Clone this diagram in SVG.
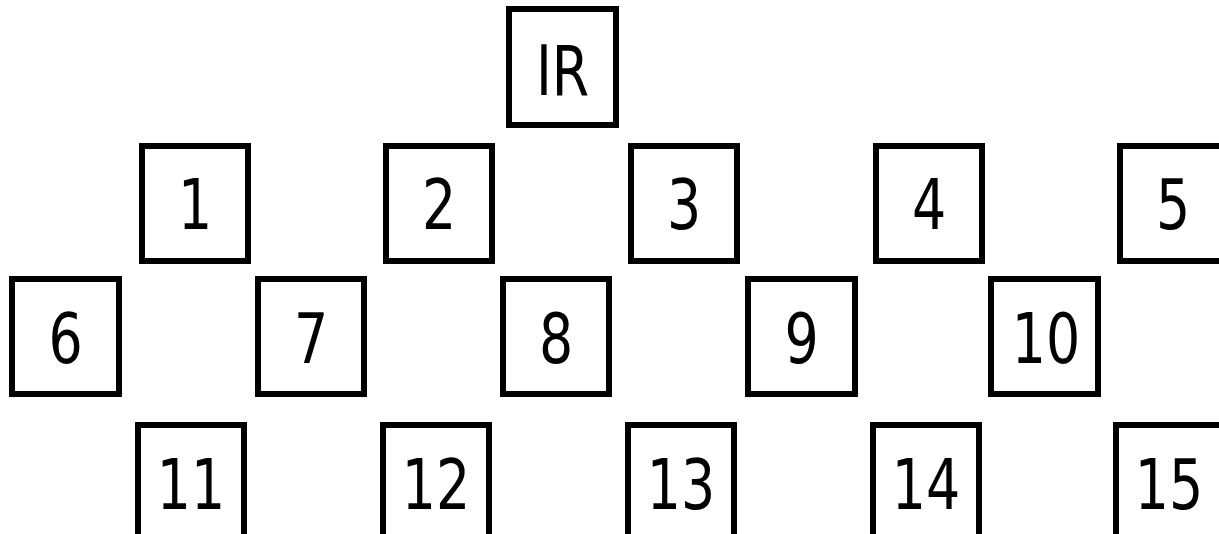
<svg xmlns="http://www.w3.org/2000/svg" width="1219" height="534" viewBox="0 0 1219 534">
<style>
rect.box{fill:#fff;stroke:#000;stroke-width:6}
text{font-family:"DejaVu Sans",Verdana,sans-serif;font-size:69px;fill:#000;text-anchor:middle}
</style>
<rect width="1219" height="534" fill="#fff"/>
<g id="connectors"></g>
<g id="nIR"><rect class="box" x="509" y="9" width="107" height="116"/><text transform="translate(562.5,95) scale(0.78,1)">IR</text></g>
<g id="n1"><rect class="box" x="142" y="146" width="106" height="115"/><text transform="translate(195,229) scale(0.78,1)">1</text></g>
<g id="n2"><rect class="box" x="386" y="146" width="106" height="115"/><text transform="translate(439,229) scale(0.78,1)">2</text></g>
<g id="n3"><rect class="box" x="631" y="146" width="106" height="115"/><text transform="translate(684,229) scale(0.78,1)">3</text></g>
<g id="n4"><rect class="box" x="876" y="146" width="106" height="115"/><text transform="translate(929,229) scale(0.78,1)">4</text></g>
<g id="n5"><rect class="box" x="1120" y="146" width="106" height="115"/><text transform="translate(1173,229) scale(0.78,1)">5</text></g>
<g id="n6"><rect class="box" x="12" y="279" width="107" height="115"/><text transform="translate(65.5,363) scale(0.78,1)">6</text></g>
<g id="n7"><rect class="box" x="258" y="279" width="106" height="115"/><text transform="translate(311,363) scale(0.78,1)">7</text></g>
<g id="n8"><rect class="box" x="503" y="279" width="106" height="115"/><text transform="translate(556,363) scale(0.78,1)">8</text></g>
<g id="n9"><rect class="box" x="748" y="279" width="107" height="115"/><text transform="translate(801.5,363) scale(0.78,1)">9</text></g>
<g id="n10"><rect class="box" x="991" y="279" width="107" height="115"/><text transform="translate(1046,363) scale(0.78,1)">10</text></g>
<g id="n11"><rect class="box" x="138" y="425" width="106" height="115"/><text transform="translate(191,509) scale(0.78,1)">11</text></g>
<g id="n12"><rect class="box" x="383" y="425" width="106" height="115"/><text transform="translate(436,509) scale(0.78,1)">12</text></g>
<g id="n13"><rect class="box" x="628" y="425" width="106" height="115"/><text transform="translate(681,509) scale(0.78,1)">13</text></g>
<g id="n14"><rect class="box" x="873" y="425" width="106" height="115"/><text transform="translate(926,509) scale(0.78,1)">14</text></g>
<g id="n15"><rect class="box" x="1116" y="425" width="106" height="115"/><text transform="translate(1169,509) scale(0.78,1)">15</text></g>
</svg>
